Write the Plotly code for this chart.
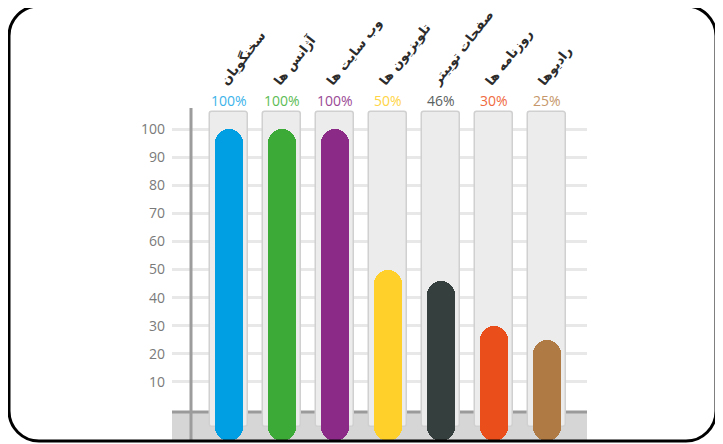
import plotly.graph_objects as go

# ---------------- data ----------------
categories = ["سخنگویان", "آژانس ها", "وب سایت ها", "تلویزیون ها", "صفحات توییتر", "روزنامه ها", "رادیوها"]
values = [100, 100, 100, 50, 46, 30, 25]
pct_labels = ["100%", "100%", "100%", "50%", "46%", "30%", "25%"]
bar_colors = ["#009FE3", "#3CAA36", "#8C2B87", "#FFD02A", "#353F3D", "#E94E1B", "#B07A45"]
label_colors = ["#3CB3EA", "#5CBC55", "#9A4A95", "#FFD445", "#5A615F", "#EF6A40", "#C6976A"]
y_ticks = [10, 20, 30, 40, 50, 60, 70, 80, 90, 100]
column_top = 106
# --------------------------------------

OFF = 8                      # page body margin of the browser
SW, SH = 723, 444            # screen size
W, H = SW - OFF, SH - OFF    # figure size

# pixel geometry (screen coordinates) of the value axis
y0_px, y100_px = 410, 129
k = (y0_px - y100_px) / 100.0
def val(sy):
    return (y0_px - sy) / k

ymin, ymax = val(SH), val(OFF)
# category axis: plot area 172..587 px, centre of cat i at 229 + 53 i
x_left, x_right, c0, step = 172, 587, 229, 53
xr = [(x_left - c0) / step, (x_right - c0) / step]

def px(sx):
    return (sx - OFF) / W
def py(sy):
    return 1 - (sy - OFF) / H

xs = list(range(len(categories)))
bottom = val(441)
col_base = val(427)

fig = go.Figure()
# background columns
fig.add_trace(go.Bar(
    x=xs, y=[column_top - col_base] * len(xs), base=col_base, width=38 / step,
    marker=dict(color="#ECECEC", line=dict(color="#D0D0D0", width=1.5), cornerradius=3),
    hoverinfo="skip", showlegend=False))
# value bars
fig.add_trace(go.Bar(
    x=xs, y=[v - bottom for v in values], base=bottom, width=28 / step,
    marker=dict(color=bar_colors, line=dict(width=0), cornerradius=14),
    hoverinfo="skip", showlegend=False))

shapes = [
    # floor
    dict(type="rect", xref="paper", yref="y", x0=px(172), x1=px(587), y0=bottom, y1=val(412),
         fillcolor="#D6D6D6", line=dict(width=0), layer="below"),
    dict(type="line", xref="paper", yref="y", x0=px(172), x1=px(587), y0=val(412), y1=val(412),
         line=dict(color="#9A9A9A", width=3), layer="below"),
    # vertical axis line
    dict(type="line", xref="paper", yref="y", x0=px(191), x1=px(191), y0=bottom, y1=val(108),
         line=dict(color="#9C9C9C", width=3), layer="above"),
]
# outer rounded frame
L, R, T, B, r = 9, 716, 6, 441, 30
path = (f"M {px(L + r)},{py(T)} L {px(R - r)},{py(T)} "
        f"C {px(R - r * 0.45)},{py(T)} {px(R)},{py(T + r * 0.45)} {px(R)},{py(T + r)} "
        f"L {px(R)},{py(B - r)} "
        f"C {px(R)},{py(B - r * 0.45)} {px(R - r * 0.45)},{py(B)} {px(R - r)},{py(B)} "
        f"L {px(L + r)},{py(B)} "
        f"C {px(L + r * 0.45)},{py(B)} {px(L)},{py(B - r * 0.45)} {px(L)},{py(B - r)} "
        f"L {px(L)},{py(T + r)} "
        f"C {px(L)},{py(T + r * 0.45)} {px(L + r * 0.45)},{py(T)} {px(L + r)},{py(T)} Z")
shapes.append(dict(type="path", xref="paper", yref="paper", path=path,
                   line=dict(color="#000000", width=3), layer="above"))

annotations = []
for i, (p, c) in enumerate(zip(pct_labels, label_colors)):
    annotations.append(dict(x=i, y=val(100.5), xref="x", yref="y", text=p, showarrow=False,
                            font=dict(family="Open Sans, Lato, sans-serif", size=14, color=c),
                            xanchor="center", yanchor="middle"))
for i, name in enumerate(categories):
    annotations.append(dict(x=i - 0.28, y=val(91), xref="x", yref="y", text="<b>" + name + "</b>",
                            showarrow=False, textangle=-52,
                            font=dict(family="DejaVu Sans, Noto Sans, sans-serif", size=13, color="#2B2B2B"),
                            xanchor="left", yanchor="bottom"))

fig.update_layout(
    width=W, height=H, margin=dict(l=0, r=0, t=0, b=0),
    paper_bgcolor="white", plot_bgcolor="white",
    barmode="overlay", bargap=0,
    xaxis=dict(domain=[px(x_left), px(x_right)], range=xr, visible=False, fixedrange=True),
    yaxis=dict(domain=[0, 1], range=[ymin, ymax], tickvals=y_ticks, showgrid=True,
               gridcolor="#E8E8E8", gridwidth=3, zeroline=False, showline=False, ticks="",
               ticklabelstandoff=6,
               tickfont=dict(family="Open Sans, Lato, sans-serif", size=14, color="#7A7A7A"),
               fixedrange=True),
    shapes=shapes, annotations=annotations, showlegend=False,
)

fig.write_html("out.html")
